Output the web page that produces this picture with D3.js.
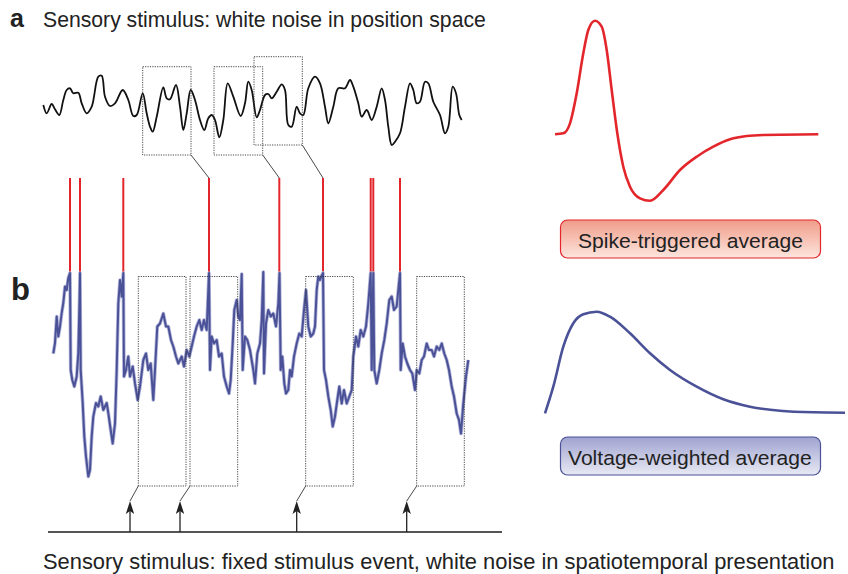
<!DOCTYPE html>
<html>
<head>
<meta charset="utf-8">
<script src="https://cdn.jsdelivr.net/npm/d3@7"></script>
<style>
  body { margin: 0; background: #fff; }
  svg { display: block; font-family: "Liberation Sans", Arial, Helvetica, sans-serif; }
</style>
</head>
<body>
<div id="fig"></div>
<script>
// time in ms, stimulus position in µm (panel a)
const stimulusA = [
  [3.3,5],[6.7,-3.3],[11.7,6],[15,0.7],[19.3,-5],[23.3,10],[26.7,20],[30,21.7],[33.3,16.7],[38.3,17.3],
  [41.7,6.7],[46.7,-3.3],[51.7,3.3],[58.3,33.3],[61.7,34.3],[65,13.3],[70,4],[75,6.7],[82.7,20],[88.3,10],
  [93.3,-6],[96.7,-5],[102.7,16.7],[106.7,-3.3],[110,-16.7],[112.7,-21.7],[116.7,-6.7],[123.3,22.7],[126.7,11.7],[130,10.7],
  [136,25],[140,3.3],[143.3,-20],[146.7,-3.3],[150.7,20],[155,10],[160,-10],[164.3,-20],[168.3,-8.3],[171.7,-5],
  [175,-10],[179.3,-27.3],[183.3,-10],[187.7,26.7],[193.3,13.3],[200.7,-6],[205,6.7],[208.3,28.3],[211.7,20],[216.7,-7.3],
  [220,0],[225,15],[228.3,16],[231.7,11.7],[236.7,18.3],[241.7,25.7],[245,20],[248.3,-15],[251.7,-16.7],[256.7,3.3],
  [260,-3.3],[263.3,-5],[268.3,21.7],[275,33.3],[280,26.7],[285,3.3],[288.3,-13.3],[293.3,3.3],[298.3,21.7],[305,21.7],
  [310,30],[313.3,23.3],[318.3,6.7],[321.7,-6.7],[326.7,0],[331.7,-10],[336.7,3.3],[341.7,21.7],[345,10],[348.3,-16.7],
  [351.7,-35],[355,-31.7],[360,-23.3],[365,3.3],[370,26.7],[373.3,20],[376.7,6.7],[380,8.3],[385,28.3],[388.3,26.7],
  [393.3,8.3],[400,-5],[405,-23.3],[408.3,-16.7],[412.7,23.3],[416,16.7],[419.3,-5],[421.7,-10]
];

// membrane potential in mV (panel b)
const voltage = [
  [13.3,-56.1],[15,-54],[16.7,-48.7],[18.3,-52.7],[20,-50.7],[21.7,-48],[23.3,-46],[25,-42.7],[26.7,-43.4],[28.3,-41],
  [30,-40],[30.7,-59.4],[32.3,-61.4],[34.3,-62.7],[36.7,-60.7],[38.3,-56],[39.5,-45.4],[40,-40],[40.7,-59.4],[42.7,-66],
  [44.3,-72.7],[46,-76.7],[48.3,-80.7],[50,-79.4],[51.7,-72.7],[53.3,-68.7],[56,-66],[58.3,-66.7],[60.7,-64.7],[63.3,-67.4],
  [66.7,-66],[68.3,-68],[70.7,-71.4],[72.7,-74.1],[75,-70.1],[76.7,-59.4],[78.3,-46.1],[80,-41.4],[81.7,-44.7],[83.3,-40],
  [84,-60.7],[86,-59.4],[88.3,-56.7],[90,-60.7],[92.7,-58.7],[95,-62.1],[97.7,-65.4],[100,-62.7],[103.3,-57.4],[106,-56.1],
  [108.3,-59.4],[110.7,-58.1],[113.3,-65.4],[115,-59.4],[117.3,-50.7],[120,-50.1],[123.3,-48.1],[126,-50.7],[128.3,-50.7],[131,-53.4],
  [133.3,-54.7],[136,-56.7],[138.3,-58.1],[141.7,-56.7],[144,-58.7],[146.7,-55.4],[149.3,-56.7],[151.7,-54.7],[154,-52.7],[156.7,-50.7],
  [159.3,-49.4],[161.7,-51.4],[164,-49.4],[166.7,-51.4],[169,-40],[170,-59.4],[171.7,-52.7],[174,-54.1],[176.7,-53.4],[179,-56.7],
  [181.7,-56.1],[184,-60.7],[186.7,-62.7],[189,-64.1],[190.7,-61.4],[192.7,-54.1],[194.3,-47.4],[196.7,-45.4],[198.3,-48.7],[200,-49.4],
  [201.7,-40.2],[202.7,-59.4],[205,-52.7],[207.3,-53.4],[210,-55.4],[213.3,-59.4],[215,-62.1],[217.3,-56.1],[220,-54.1],[221.7,-49.4],
  [223.3,-39.8],[224,-60.1],[226,-50.1],[228.3,-47.4],[230.7,-48.7],[233.3,-48.1],[236,-50.7],[238.3,-46.1],[239.5,-40],[240.7,-59.4],
  [242.3,-56.7],[244.3,-62.1],[246,-64.1],[248.3,-63.4],[250,-59.4],[251.7,-60.7],[254,-56.7],[256.7,-54.1],[259.3,-52.1],[261.7,-52.7],
  [264,-47.4],[266,-43.4],[268.3,-50.7],[270.7,-52.7],[273.3,-52.1],[275,-50.7],[276.7,-43.4],[278.3,-40.7],[280,-41.4],[281.5,-40.6],
  [283,-40],[284,-59.4],[286,-61.4],[288.3,-64.7],[290.7,-67.4],[292.7,-70.7],[295,-68.7],[297.3,-65.4],[299.3,-62.7],[301.7,-66.1],
  [304,-63.4],[306.7,-66.1],[309.3,-64.7],[311.7,-63.4],[313.3,-56.7],[316,-52.7],[318.3,-54.7],[320.7,-51.4],[323.3,-52.7],[326,-50.7],
  [328.3,-46.1],[330.7,-40],[331.7,-59.4],[333.3,-40],[334.3,-59.4],[336.7,-62.1],[339.3,-59.4],[341.7,-56.1],[344.3,-53.4],[346.7,-50.1],
  [349.3,-45.4],[351.7,-44.7],[354,-47.4],[356.7,-46.7],[358.3,-43.4],[360,-40],[360.7,-59.4],[362.7,-54.1],[365,-56.7],[367.3,-58.1],
  [370,-59.4],[372.3,-60.1],[375,-63.4],[376.7,-59.4],[379.3,-60.1],[381.7,-57.4],[384,-56.7],[386.7,-54.1],[389,-55.4],[391.7,-55.4],
  [394,-56.7],[396.7,-54.7],[399.3,-55.4],[401.7,-54.1],[404.3,-56.1],[406.7,-57.4],[409,-59.4],[411.7,-62.7],[414,-64.7],[416.7,-68.1],
  [419,-69.4],[421,-72.1],[423.3,-66.1],[426,-60.7],[428.3,-57.4]
];

const spikeTimes = [30, 40, 83.3, 169, 239.3, 283, 330.7, 333.3, 360];
const spikeThreshold = -40;
const spikePeak = -21;

// analysis windows (ms)
const windowsA = [[102.7, 151], [174, 222.7], [214, 262.3]];
const windowSpikeA = [169, 239.3, 283];
const windowsB = [[98.3, 146], [150, 197.7], [265.7, 313.3], [376.7, 424.3]];
const eventTimes = [90, 140, 256.7, 366.7];

// averaged kernels (lag in ms, amplitude arbitrary)
const staKernel = [
  [0,-0.3],[8.3,0.7],[15,10.7],[21.7,40.7],[28.3,80.7],[33.3,104],[40,113.3],[46.7,107.3],[51.7,84],[56.7,44],
  [62.3,0.7],[68.3,-32.7],[75,-52.7],[85,-64.3],[95,-66.7],[108.3,-56],[125,-36],[141.7,-22.7],[158.3,-12.7],[175,-5.3],
  [191.7,-2],[208.3,-1],[263.3,-0.3]
];
const vwaKernel = [
  [0,-0.3],[8.3,26.3],[18.3,66.3],[28.3,89.7],[38.3,98.7],[51.7,101.3],[65,96.3],[85,79.7],[105,59.7],[125,43],
  [151.7,26.3],[178.3,13.7],[205,6.3],[235,2.3],[268.3,0.7],[300,0.3]
];

const labels = {
  a: "a", b: "b",
  titleA: "Sensory stimulus: white noise in position space",
  titleB: "Sensory stimulus: fixed stimulus event, white noise in spatiotemporal presentation",
  sta: "Spike-triggered average",
  vwa: "Voltage-weighted average"
};

const width = 848, height = 574;
const RED = "#e3262b", BLUE = "#4a5197";

const svg = d3.select("#fig").append("svg")
  .attr("width", width).attr("height", height);
svg.append("rect").attr("width", width).attr("height", height).attr("fill", "#fff");

const defs = svg.append("defs");
function grad(id, top, bottom) {
  const g = defs.append("linearGradient").attr("id", id)
    .attr("x1", 0).attr("y1", 0).attr("x2", 0).attr("y2", 1);
  g.append("stop").attr("offset", "0%").attr("stop-color", top);
  g.append("stop").attr("offset", "100%").attr("stop-color", bottom);
}
grad("gRed", "#f09c89", "#fde6de");
grad("gBlue", "#9fa3d0", "#e8e9f4");

// text sized so its natural width matches the target width
function fitText(xPos, yPos, str, target, base, extra) {
  const t = svg.append("text").attr("x", xPos).attr("y", yPos)
    .attr("font-size", base).attr("fill", "#222").text(str);
  if (extra) extra(t);
  const len = t.node().getComputedTextLength();
  t.attr("font-size", base * target / len);
  return t;
}

// shared time axis
const x = d3.scaleLinear().domain([0, 430]).range([40, 470]);
const yA = d3.scaleLinear().domain([-60, 60]).range([170, 50]);
const yB = d3.scaleLinear().domain([-80, -20]).range([473, 173]);

// panel a
svg.append("path").datum(stimulusA)
  .attr("fill", "none").attr("stroke", "#111").attr("stroke-width", 1.8)
  .attr("stroke-linejoin", "round")
  .attr("d", d3.line().curve(d3.curveCatmullRom.alpha(0.5)).x(d => x(d[0])).y(d => yA(d[1])));

const liftA = [0, 0, 10];
windowsA.forEach((w, i) => {
  const top = yA(43.3) - liftA[i], bot = yA(-45) - liftA[i];
  svg.append("rect")
    .attr("x", x(w[0])).attr("y", top)
    .attr("width", x(w[1]) - x(w[0])).attr("height", bot - top)
    .attr("fill", "none").attr("stroke", "#333").attr("stroke-width", 0.9)
    .attr("stroke-dasharray", "1.2,1.2");
  svg.append("line")
    .attr("x1", x(w[1])).attr("y1", bot)
    .attr("x2", x(windowSpikeA[i])).attr("y2", yB(spikePeak))
    .attr("stroke", "#333").attr("stroke-width", 0.9);
});

// spikes
svg.append("g").selectAll("line").data(spikeTimes).join("line")
  .attr("x1", d => x(d)).attr("x2", d => x(d))
  .attr("y1", yB(spikePeak)).attr("y2", yB(spikeThreshold))
  .attr("stroke", RED).attr("stroke-width", 2);

// voltage trace
const vLine = d3.line().x(d => x(d[0])).y(d => yB(d[1]));
svg.append("path").datum(voltage)
  .attr("fill", "none").attr("stroke", "#b3b6d9").attr("stroke-width", 3.6)
  .attr("stroke-linejoin", "round").attr("d", vLine);
svg.append("path").datum(voltage)
  .attr("fill", "none").attr("stroke", BLUE).attr("stroke-width", 2)
  .attr("stroke-linejoin", "round").attr("d", vLine);

// panel b windows and stimulus events
const baseY = 532, tipY = 501;
windowsB.forEach((w, i) => {
  const top = yB(-40.7), bot = yB(-82.6);
  svg.append("rect")
    .attr("x", x(w[0])).attr("y", top)
    .attr("width", x(w[1]) - x(w[0])).attr("height", bot - top)
    .attr("fill", "none").attr("stroke", "#333").attr("stroke-width", 0.9)
    .attr("stroke-dasharray", "1.2,1.2");
  svg.append("line")
    .attr("x1", x(w[0])).attr("y1", bot)
    .attr("x2", x(eventTimes[i])).attr("y2", tipY)
    .attr("stroke", "#333").attr("stroke-width", 0.9);
});

svg.append("line").attr("x1", 48).attr("x2", 502)
  .attr("y1", baseY).attr("y2", baseY)
  .attr("stroke", "#555").attr("stroke-width", 2);

eventTimes.forEach(t => {
  const cx = x(t);
  svg.append("line").attr("x1", cx).attr("x2", cx)
    .attr("y1", baseY).attr("y2", tipY + 8)
    .attr("stroke", "#222").attr("stroke-width", 1.3);
  svg.append("path")
    .attr("d", `M${cx},${tipY} L${cx - 4.2},${tipY + 13} L${cx},${tipY + 10} L${cx + 4.2},${tipY + 13} Z`)
    .attr("fill", "#222");
});

// kernels
const xS = d3.scaleLinear().domain([0, 263.3]).range([555, 818.3]);
const yS = d3.scaleLinear().domain([-70, 115]).range([204, 19]);
svg.append("path").datum(staKernel)
  .attr("fill", "none").attr("stroke", RED).attr("stroke-width", 2.6)
  .attr("d", d3.line().curve(d3.curveMonotoneX).x(d => xS(d[0])).y(d => yS(d[1])));

const xV = d3.scaleLinear().domain([0, 300]).range([545, 845]);
const yV = d3.scaleLinear().domain([0, 102]).range([413, 311]);
svg.append("path").datum(vwaKernel)
  .attr("fill", "none").attr("stroke", BLUE).attr("stroke-width", 2.6)
  .attr("d", d3.line().curve(d3.curveMonotoneX).x(d => xV(d[0])).y(d => yV(d[1])));

// legend boxes
function legendBox(y0, fill, stroke, text, tx, tw, ty) {
  svg.append("rect").attr("x", 560.5).attr("y", y0)
    .attr("width", 260).attr("height", 38).attr("rx", 7)
    .attr("fill", `url(#${fill})`).attr("stroke", stroke).attr("stroke-width", 1.2);
  fitText(tx, ty, text, tw, 20);
}
legendBox(220, "gRed", RED, labels.sta, 578, 225, 248);
legendBox(437, "gBlue", BLUE, labels.vwa, 568, 244, 464.5);

// labels
svg.append("text").attr("x", 10).attr("y", 27)
  .attr("font-size", 25).attr("font-weight", "bold").attr("fill", "#222").text(labels.a);
fitText(43, 27, labels.titleA, 443, 18);
svg.append("text").attr("x", 11).attr("y", 300)
  .attr("font-size", 31).attr("font-weight", "bold").attr("fill", "#222").text(labels.b);
fitText(43, 569, labels.titleB, 792, 19);
</script>
</body>
</html>
